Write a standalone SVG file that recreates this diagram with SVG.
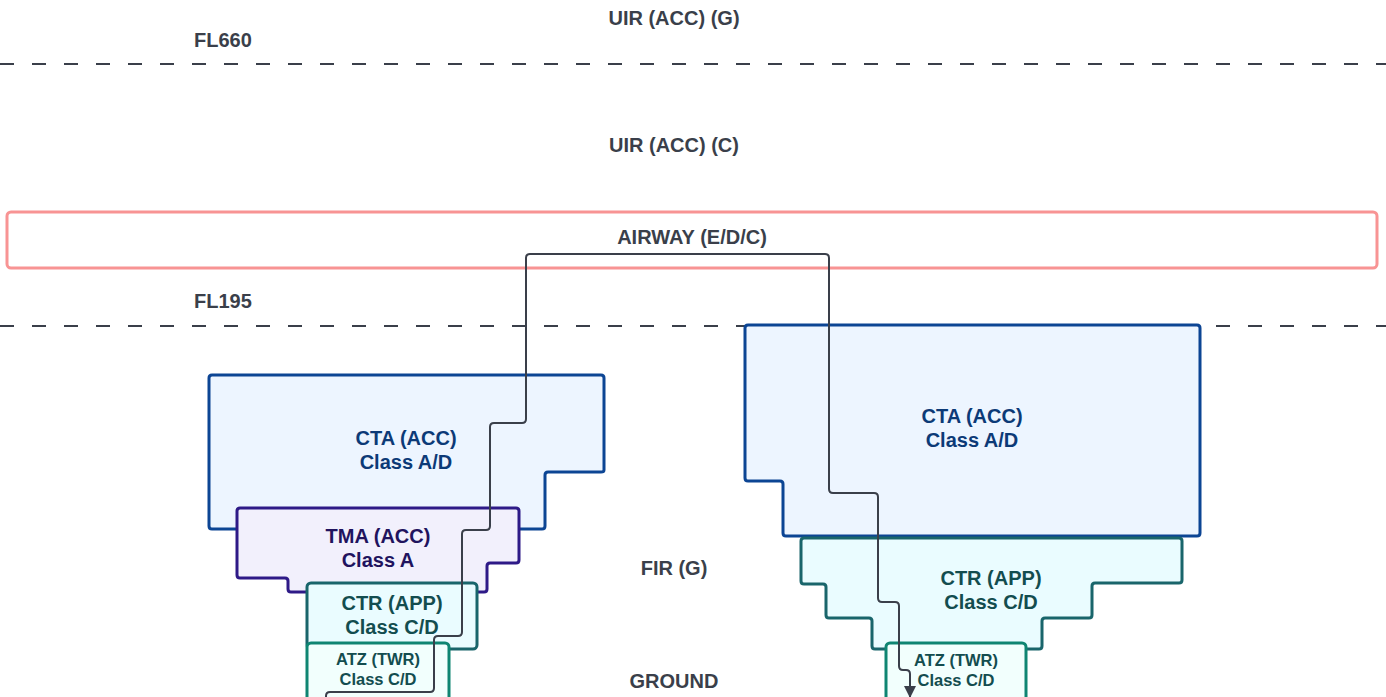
<svg xmlns="http://www.w3.org/2000/svg" width="1386" height="697" viewBox="0 0 1386 697">
<style>
text{font-family:"Liberation Sans",Arial,sans-serif;font-weight:bold;text-anchor:middle}
.lbl{font-size:20px;fill:#3a3f4a}
.dash{stroke:#3a3f4a;stroke-width:2;stroke-dasharray:14 18;fill:none}
.cta{fill:#edf5ff;stroke:#0c4594;stroke-width:3;stroke-linejoin:round}
.tma{fill:#f2f0fc;stroke:#2e1a87;stroke-width:3;stroke-linejoin:round}
.ctr{fill:#eafcff;stroke:#19656b;stroke-width:3;stroke-linejoin:round}
.atz{fill:#f2fffd;stroke:#0f8572;stroke-width:3}
.tcta{font-size:20px;fill:#0c3a77}
.ttma{font-size:20px;fill:#21135e}
.tctr{font-size:20px;fill:#134d4f}
.tatz{font-size:16.5px;fill:#134d4f}
.conn{fill:none;stroke:#3a3f4a;stroke-width:2}
</style>
<defs>
<marker id="arr" markerWidth="12" markerHeight="14" refX="11" refY="6" orient="auto" markerUnits="userSpaceOnUse">
<path d="M0,0 L12,6 L0,12 Z" fill="#3a3f4a"/>
</marker>
</defs>
<rect width="1386" height="697" fill="#ffffff"/>
<g id="levels">
<line class="dash" x1="0" y1="64" x2="1386" y2="64"/>
<line class="dash" x1="0" y1="326" x2="1386" y2="326"/>
<text class="lbl" x="674" y="25">UIR (ACC) (G)</text>
<text class="lbl" x="194" y="47" style="text-anchor:start">FL660</text>
<text class="lbl" x="674" y="152">UIR (ACC) (C)</text>
<text class="lbl" x="194" y="308" style="text-anchor:start">FL195</text>
<text class="lbl" x="674" y="575">FIR (G)</text>
<text class="lbl" x="674" y="688">GROUND</text>
</g>
<g id="airway">
<rect x="7" y="212" width="1370" height="56" rx="4" fill="#ffffff" stroke="#f89494" stroke-width="3"/>
<text class="lbl" x="692" y="244">AIRWAY (E/D/C)</text>
</g>
<g id="cta-left">
<path class="cta" d="M212,375 H601 Q604,375 604,378 V470 Q604,472 601,472 H548 Q545,472 545,475 V526 Q545,529 542,529 H212 Q209,529 209,526 V378 Q209,375 212,375 Z"/>
<text class="tcta" x="406" y="445">CTA (ACC)</text>
<text class="tcta" x="406" y="469">Class A/D</text>
</g>
<g id="tma-left">
<path class="tma" d="M240,508 H516 Q519,508 519,511 V560 Q519,563 516,563 H490 Q487,563 487,566 V589 Q487,592 484,592 H291 Q288,592 288,589 V581 Q288,578 285,578 H240 Q237,578 237,575 V511 Q237,508 240,508 Z"/>
<text class="ttma" x="378" y="543">TMA (ACC)</text>
<text class="ttma" x="378" y="567">Class A</text>
</g>
<g id="ctr-left">
<rect class="ctr" x="307" y="583" width="170" height="66" rx="4"/>
<text class="tctr" x="392" y="610">CTR (APP)</text>
<text class="tctr" x="392" y="634">Class C/D</text>
</g>
<g id="atz-left">
<rect class="atz" x="307" y="643" width="142" height="70" rx="4"/>
<text class="tatz" x="378" y="665">ATZ (TWR)</text>
<text class="tatz" x="378" y="685">Class C/D</text>
</g>
<g id="cta-right">
<path class="cta" d="M748,325 H1197 Q1200,325 1200,328 V533 Q1200,536 1197,536 H786 Q783,536 783,533 V484 Q783,481 780,481 H748 Q745,481 745,478 V328 Q745,325 748,325 Z"/>
<text class="tcta" x="972" y="423">CTA (ACC)</text>
<text class="tcta" x="972" y="447">Class A/D</text>
</g>
<g id="ctr-right">
<path class="ctr" d="M804,538 H1179 Q1182,538 1182,541 V580 Q1182,583 1179,583 H1095 Q1092,583 1092,586 V615 Q1092,618 1089,618 H1045 Q1042,618 1042,621 V646 Q1042,649 1039,649 H875 Q872,649 872,646 V621 Q872,618 869,618 H829 Q826,618 826,615 V587 Q826,584 823,584 H804 Q801,584 801,581 V541 Q801,538 804,538 Z"/>
<text class="tctr" x="991" y="585">CTR (APP)</text>
<text class="tctr" x="991" y="609">Class C/D</text>
</g>
<g id="atz-right">
<rect class="atz" x="886" y="643" width="140" height="70" rx="4"/>
<text class="tatz" x="956" y="666">ATZ (TWR)</text>
<text class="tatz" x="956" y="686">Class C/D</text>
</g>
<g id="connectors">
<path class="conn" marker-end="url(#arr)" d="M326,700 V696 Q326,692 330,692 H430 Q434,692 434,688 V640 Q434,636 438,636 H458 Q462,636 462,632 V534 Q462,530 466,530 H486 Q490,530 490,526 V427 Q490,423 494,423 H522 Q526,423 526,419 V258 Q526,254 530,254 H825 Q829,254 829,258 V489 Q829,493 833,493 H874 Q878,493 878,497 V598 Q878,602 882,602 H895 Q899,602 899,606 V666 Q899,670 903,670 H906 Q910,670 910,674 V697"/>
</g>
</svg>
